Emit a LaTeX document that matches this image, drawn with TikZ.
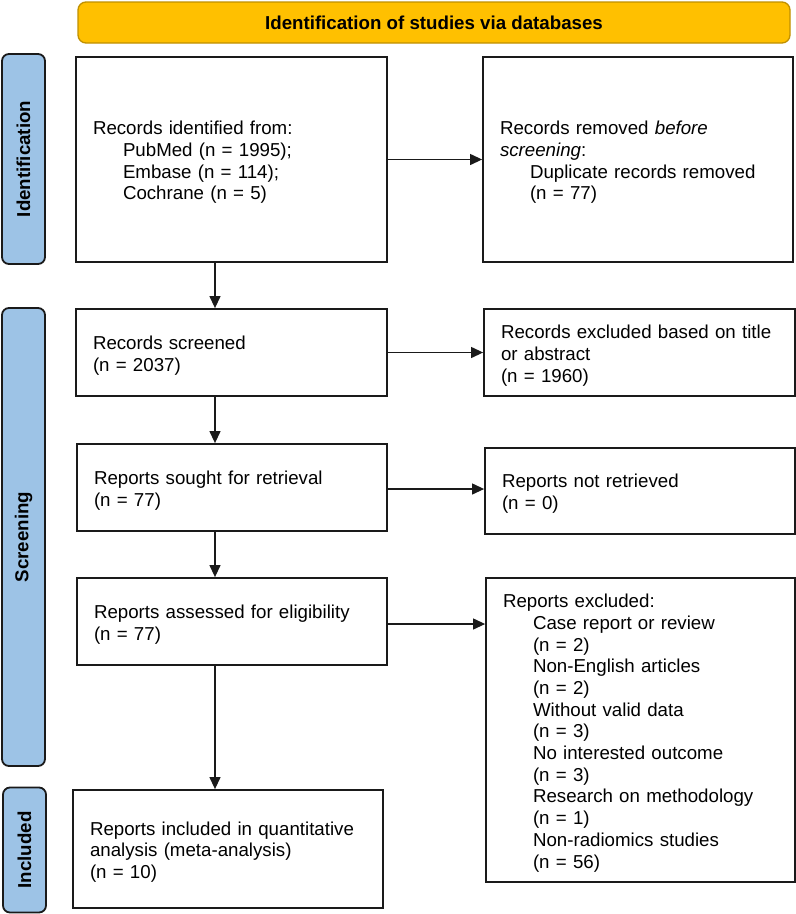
\documentclass[tikz,border=0pt]{standalone}
\usepackage{fontspec}
\setmainfont{Liberation Sans}
\usetikzlibrary{arrows.meta,calc}
\definecolor{bannerfill}{HTML}{FFC000}
\definecolor{bannerdraw}{HTML}{C09000}
\definecolor{sidefill}{HTML}{9DC3E6}
\definecolor{edge}{HTML}{1A1A1A}
\newcommand{\boxpadbottom}{\par\kern-6pt}
\newcommand{\ind}{\hspace*{30pt}}
\begin{document}
\begin{tikzpicture}[x=1pt,y=-1pt,
  every node/.style={font=\fontsize{18.7}{21.7}\selectfont},
  box/.style={draw=edge, line width=1.8pt, rectangle, inner xsep=17pt, inner ysep=0pt, align=left,
    execute at end node=\boxpadbottom},
  side/.style={draw=edge, line width=1.8pt, fill=sidefill, rounded corners=7pt, rectangle, inner sep=0pt},
  sidetext/.style={rotate=90, font=\fontsize{18.7}{21.7}\selectfont\bfseries},
  banner/.style={draw=bannerdraw, line width=1.3pt, fill=bannerfill, rounded corners=8pt, rectangle, inner sep=0pt, font=\fontsize{18.7}{21.7}\selectfont\bfseries},
  arr/.style={draw=edge, line width=1.2pt, -{Triangle[length=12pt,width=11pt]}}
]
\useasboundingbox (0,0) rectangle (796,914);

\node[banner, minimum width=712pt, minimum height=41pt] (ban) at (434,22.5) {Identification of studies via databases};

\node[side, minimum width=43pt, minimum height=210pt] (s1) at (23.5,159) {};
\node[sidetext] (s1t) at (s1.center) {Identification};
\node[side, minimum width=43pt, minimum height=458pt] (s2) at (23.5,537) {};
\node[sidetext] (s2t) at (s2.center) {Screening};
\node[side, minimum width=43pt, minimum height=125pt] (s3) at (24.5,850) {};
\node[sidetext] (s3t) at (s3.center) {Included};

\node[box, minimum width=311pt, minimum height=205pt, text width=277pt] (b1) at (231.5,159.5)
 {Records identified from:\\\ind PubMed (n = 1995);\\\ind Embase (n = 114);\\\ind Cochrane (n = 5)};
\node[box, minimum width=310pt, minimum height=205pt, text width=276pt] (b2) at (638,159.5)
 {Records removed \textit{before screening}:\\\ind Duplicate records removed\\\ind (n = 77)};
\node[box, minimum width=311pt, minimum height=87pt, text width=277pt] (b3) at (231.5,352.5)
 {Records screened\\(n = 2037)};
\node[box, minimum width=311pt, minimum height=87pt, text width=277pt] (b4) at (639.5,352.5)
 {Records excluded based on title or abstract\\(n = 1960)};
\node[box, minimum width=310pt, minimum height=87pt, text width=276pt] (b5) at (232,487.5)
 {Reports sought for retrieval\\(n = 77)};
\node[box, minimum width=310pt, minimum height=86pt, text width=276pt] (b6) at (640,491)
 {Reports not retrieved\\(n = 0)};
\node[box, minimum width=310pt, minimum height=87pt, text width=276pt] (b7) at (232,621.5)
 {Reports assessed for eligibility\\(n = 77)};
\node[box, minimum width=309pt, minimum height=304pt, text width=275pt] (b8) at (640.5,730)
 {Reports excluded:\\\ind Case report or review\\\ind (n = 2)\\\ind Non-English articles\\\ind (n = 2)\\\ind Without valid data\\\ind (n = 3)\\\ind No interested outcome\\\ind (n = 3)\\\ind Research on methodology\\\ind (n = 1)\\\ind Non-radiomics studies\\\ind (n = 56)};
\node[box, minimum width=310pt, minimum height=118pt, text width=276pt] (b9) at (228,849)
 {Reports included in quantitative analysis (meta-analysis)\\(n = 10)};

\coordinate (ax) at (215,0);
\draw[arr] (b1.east) -- (b2.west);
\draw[arr] (b3.east) -- (b4.west);
\draw[arr] ($(b5.east)+(0,1.5)$) -- ($(b5.east -| b6.west)+(0,1.5)$);
\draw[arr] ($(b7.east)+(0,2.5)$) -- ($(b7.east -| b8.west)+(0,2.5)$);
\draw[arr] (b1.south -| ax) -- (b3.north -| ax);
\draw[arr] (b3.south -| ax) -- (b5.north -| ax);
\draw[arr] (b5.south -| ax) -- (b7.north -| ax);
\draw[arr] (b7.south -| ax) -- (b9.north -| ax);
\end{tikzpicture}
\end{document}
